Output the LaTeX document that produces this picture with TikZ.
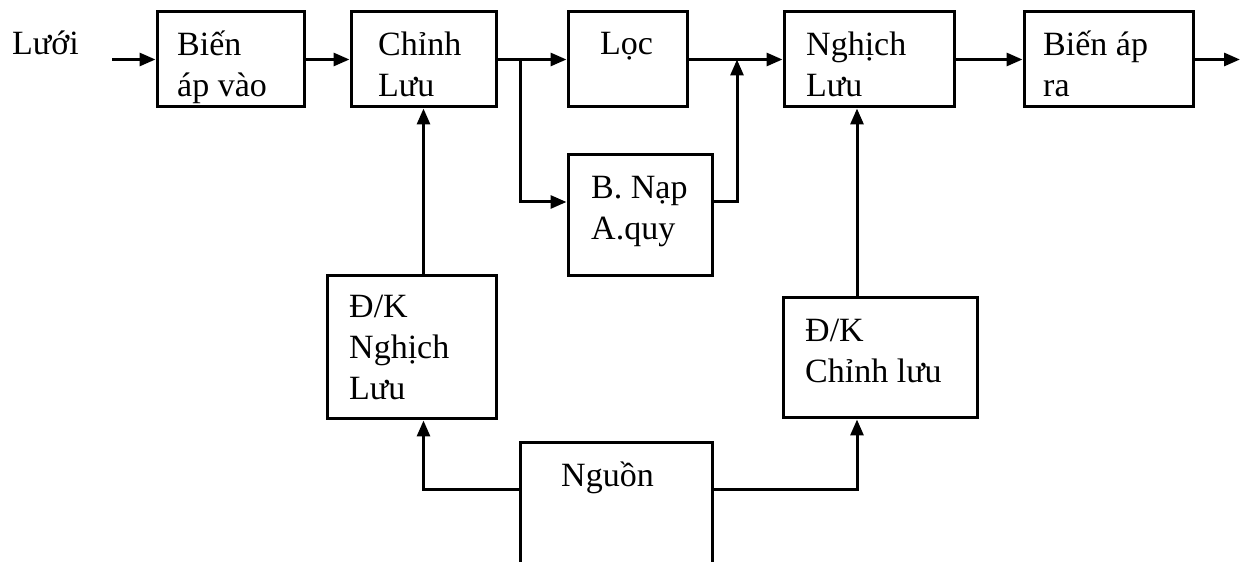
\documentclass[tikz,border=0pt]{standalone}
\usepackage{fontspec}
\setmainfont{Liberation Serif}
\usetikzlibrary{arrows.meta}
\begin{document}
\begin{tikzpicture}[x=1pt,y=1pt,>={Triangle[length=16pt,width=13pt]},
		font=\fontsize{34}{41}\selectfont,
		blk/.style={draw,line width=3pt,inner sep=0pt},
		txt/.style={anchor=base west,align=left,inner sep=0pt},
		wire/.style={line width=3pt}]
	\useasboundingbox (0,0) rectangle (1240,562);
	\clip (0,0) rectangle (1240,562);
	% cac khoi
	\node[blk,minimum width=147,minimum height=95] (bav) at (230.5,502.5) {};
	\node[blk,minimum width=145,minimum height=95] (cl) at (423.5,502.5) {};
	\node[blk,minimum width=119,minimum height=95] (loc) at (627.5,502.5) {};
	\node[blk,minimum width=170,minimum height=95] (ngl) at (869,502.5) {};
	\node[blk,minimum width=169,minimum height=95] (bar) at (1108.5,502.5) {};
	\node[blk,minimum width=144,minimum height=121] (nap) at (640,346.5) {};
	\node[blk,minimum width=169,minimum height=143] (dkn) at (411.5,214.5) {};
	\node[blk,minimum width=194,minimum height=120] (dkc) at (880,204) {};
	\node[blk,minimum width=192,minimum height=157] (ngu) at (616,40.5) {};
	% chu (goc o dong cuoi)
	\node[txt] (t-luoi) at (12,507) {Lưới};
	\node[txt] (t-bav) at (177,465) {Biến\\áp vào};
	\node[txt] (t-cl) at (378,465) {Chỉnh\\Lưu};
	\node[txt] (t-loc) at (600,507) {Lọc};
	\node[txt] (t-ngl) at (806,465) {Nghịch\\Lưu};
	\node[txt] (t-bar) at (1043,465) {Biến áp\\ra};
	\node[txt] (t-nap) at (591,322) {B. Nạp\\A.quy};
	\node[txt] (t-dkn) at (349,162) {Đ/K\\Nghịch\\Lưu};
	\node[txt] (t-dkc) at (805,179) {Đ/K\\Chỉnh lưu};
	\node[txt] (t-ngu) at (561,75) {Nguồn};
	\path
	(112,502.5) coordinate (in)
	(520,502.5) coordinate (j1)
	(737,502.5) coordinate (j2)
	(1240,502.5) coordinate (out)
	(423.5,0) coordinate (xl)
	(857,0) coordinate (xr)
	;
	% duong noi
	\draw[wire,->] (in) -- (bav.west);
	\draw[wire,->] (bav) -- (cl);
	\draw[wire,->] (cl) -- (loc);
	\draw[wire,->] (loc) -- (ngl);
	\draw[wire,->] (ngl) -- (bar);
	\draw[wire,->] (bar) -- (out);
	\draw[wire,->] (j1) |- ([yshift=13.5pt]nap.west);
	\draw[wire,->] ([yshift=13.5pt]nap.east) -| (j2);
	\draw[wire,->] (xl |- dkn.north) -- (xl |- cl.south);
	\draw[wire,->] (xr |- dkc.north) -- (xr |- ngl.south);
	\draw[wire,->] ([yshift=31.5pt]ngu.west) -| (xl |- dkn.south);
	\draw[wire,->] ([yshift=31.5pt]ngu.east) -| (xr |- dkc.south);
\end{tikzpicture}
\end{document}
